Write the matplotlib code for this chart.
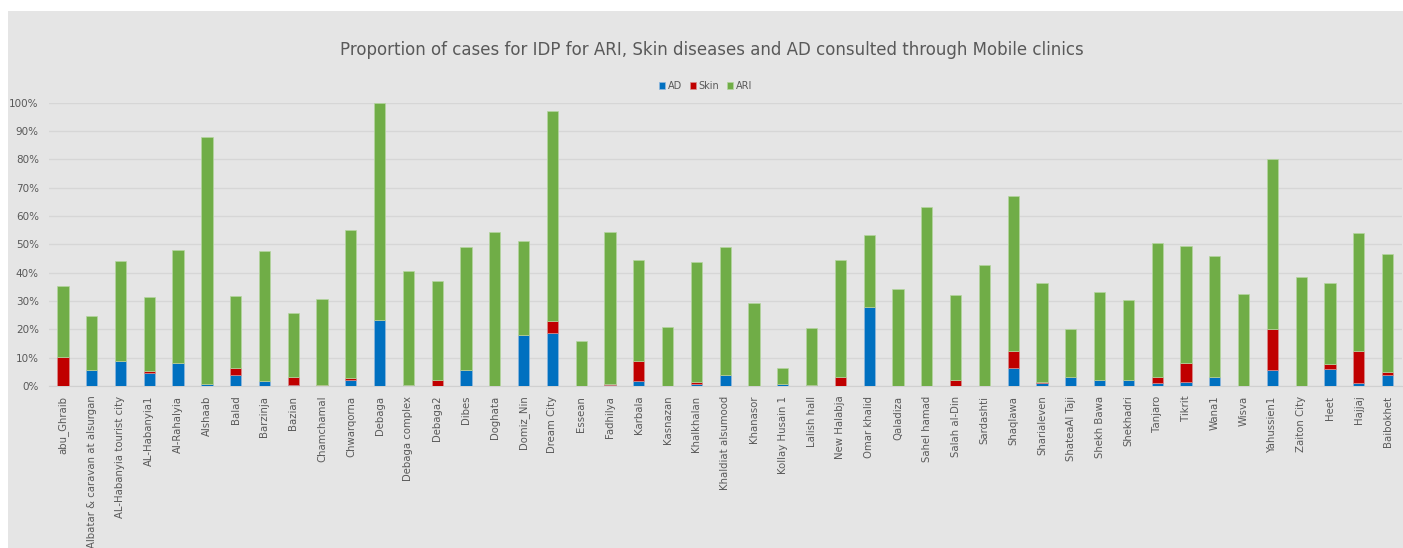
import matplotlib
matplotlib.use("Agg")
import matplotlib.pyplot as plt
from matplotlib.patches import Rectangle
from matplotlib.ticker import PercentFormatter

# Data (in %)
sites = [
    "abu_Ghraib", "Albatar & caravan at alsurgan", "AL-Habanyia tourist city", "AL-Habanyia1",
    "Al-Rahalyia", "Alshaab", "Balad", "Barzinja", "Bazian", "Chamchamal", "Chwarqorna",
    "Debaga", "Debaga complex", "Debaga2", "Dibes", "Doghata", "Domiz_Nin", "Dream City",
    "Essean", "Fadhilya", "Karbala", "Kasnazan", "Khalkhalan", "Khaldiat alsumood",
    "Khanasor", "Kollay Husain 1", "Lalish hall", "New Halabja", "Omar khalid", "Qaladiza",
    "Sahel hamad", "Salah al-Din", "Sardashti", "Shaqlawa", "Sharialeven", "ShateaAl Taji",
    "Shekh Bawa", "Shekhadri", "Tanjaro", "Tikrit", "Wana1", "Wisva", "Yahussien1",
    "Zaiton City", "Heet", "Hajjaj", "Baibokhet",
]
ad = [0.0, 5.6, 8.9, 4.5, 8.2, 0.7, 3.8, 1.9, 0.4, 0.0, 2.2,
      23.3, 0.4, 0.0, 5.6, 0.0, 18.0, 18.7,
      0.0, 0.4, 1.8, 0.0, 0.8, 3.8,
      0.0, 0.7, 0.4, 0.0, 27.8, 0.0,
      0.0, 0.0, 0.0, 6.5, 1.1, 3.1,
      2.2, 2.2, 1.1, 1.5, 3.1, 0.0, 5.6,
      0.0, 5.9, 1.1, 4.0]
skin = [10.1, 0.0, 0.0, 0.8, 0.0, 0.0, 2.6, 0.0, 2.7, 0.5, 0.5,
        0.0, 0.0, 2.2, 0.0, 0.0, 0.0, 4.2,
        0.0, 0.4, 7.1, 0.0, 0.6, 0.0,
        0.0, 0.0, 0.0, 3.1, 0.0, 0.0,
        0.0, 2.2, 0.0, 5.9, 0.4, 0.0,
        0.0, 0.0, 2.0, 6.7, 0.0, 0.0, 14.4,
        0.0, 2.0, 11.3, 0.9]
ari = [25.3, 19.1, 35.3, 26.1, 39.8, 87.1, 25.4, 45.6, 22.7, 30.2, 52.4,
       76.7, 40.1, 34.9, 43.5, 54.4, 33.3, 74.2,
       15.8, 53.6, 35.7, 20.9, 42.5, 45.3,
       29.2, 5.7, 20.2, 41.5, 25.4, 34.1,
       63.1, 30.0, 42.7, 54.7, 34.9, 17.1,
       30.9, 28.2, 47.5, 41.3, 42.7, 32.6, 60.2,
       38.6, 28.5, 41.6, 41.7]

W, H = 1403, 548
fig = plt.figure(figsize=(W / 100, H / 100), dpi=100, facecolor="white")

# grey chart area like the Excel export
fig.patches.append(Rectangle((8 / W, 0), (W - 8) / W, (H - 11) / H,
                             transform=fig.transFigure, facecolor="#e5e5e5",
                             edgecolor="none", zorder=-10))

ax = fig.add_axes([48.5 / W, 162 / H, (1402 - 48.5) / W, (386 - 102.7) / H])
ax.set_zorder(5)
ax.set_facecolor("none")

x = list(range(len(sites)))
bottom2 = [a + s for a, s in zip(ad, skin)]
w = 0.39
ax.bar(x, ad, w, color="#0070C0", edgecolor="#8fb8de", linewidth=0.5, label="AD", zorder=3)
ax.bar(x, skin, w, bottom=ad, color="#C00000", edgecolor="#d98c8c", linewidth=0.5, label="Skin", zorder=3)
ax.bar(x, ari, w, bottom=bottom2, color="#70AD47", edgecolor="#b5d6a0", linewidth=0.5, label="ARI", zorder=3)

ax.set_xlim(-0.5, len(sites) - 0.5)
ax.set_ylim(0, 100)
ax.set_yticks(range(0, 101, 10))
ax.yaxis.set_major_formatter(PercentFormatter(decimals=0))
ax.grid(axis="y", color="#d6d6d6", linewidth=1)
ax.set_axisbelow(True)
for s in ["top", "right", "left"]:
    ax.spines[s].set_visible(False)
ax.spines["bottom"].set_color("#d0d0d0")

ax.set_xticks(x)
ax.set_xticklabels(sites, rotation=90, fontsize=7.3, color="#595959")
ax.tick_params(axis="x", length=0, pad=7)
ax.tick_params(axis="y", length=0, pad=7, labelsize=7.5, labelcolor="#595959")

fig.text(0.5075, 1 - 50 / H,
         "Proportion of cases for IDP for ARI, Skin diseases and AD consulted through Mobile clinics",
         ha="center", va="center", fontsize=12, color="#595959")

fig.legend(loc="center", bbox_to_anchor=(0.503, 1 - 86 / H), ncol=3, frameon=False,
           fontsize=7, handlelength=0.6, handleheight=0.6, handletextpad=0.3,
           columnspacing=0.8, labelcolor="#595959")

fig.savefig("out.png", dpi=100, facecolor="white")
